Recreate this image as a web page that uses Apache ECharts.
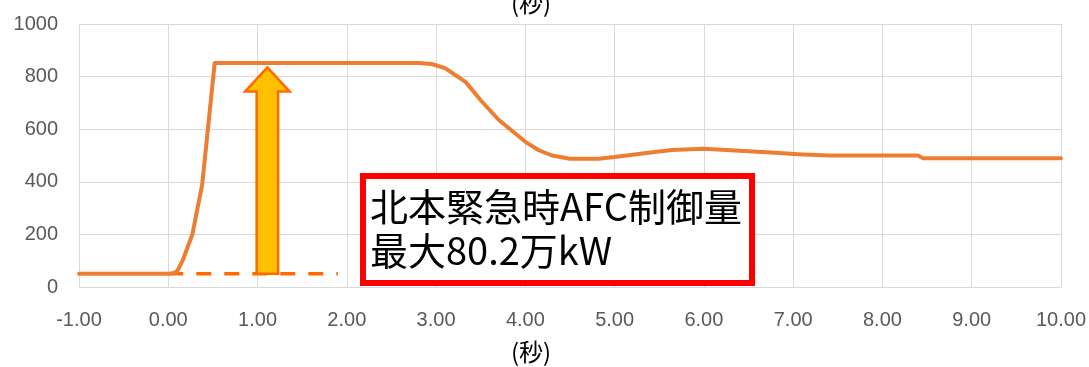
<!DOCTYPE html>
<html>
<head>
<meta charset="utf-8">
<script src="https://cdn.jsdelivr.net/npm/echarts@6/dist/echarts.min.js"></script>
<style>
  html, body { margin: 0; padding: 0; background: #ffffff; }
  #chart { width: 1089px; height: 367px; }
</style>
</head>
<body>
<div id="chart"></div>
<script>
// Time after the event (seconds) and AFC output (MW)
const timeSec = [-1, 0, 0.05, 0.1, 0.16, 0.27, 0.38, 0.52, 1, 2, 2.8, 2.95, 3.1, 3.33, 3.5, 3.7, 4.0, 4.15, 4.3, 4.5, 4.82, 5.0, 5.2, 5.45, 5.64, 5.85, 6.0, 6.2, 6.5, 6.8, 7.05, 7.4, 8.0, 8.4, 8.45, 9.0, 10.0];
const afcOutput = [50, 50, 52, 60, 100, 200, 390, 852, 852, 852, 852, 848, 832, 780, 710, 636, 552, 520, 500, 488, 488, 494, 503, 513, 521, 524, 526, 522, 516, 510, 505, 500, 500, 500, 490, 490, 490];

// Pre-event level guide (dashed) and the rise arrow
const baseGuideX = [0, 1.9];
const baseLevel = 50;
const arrowX = 1.11;
const arrowTop = 835;
const arrowHeadBase = 743;
const arrowShaftHalf = 0.12;
const arrowHeadHalf = 0.25;

// Axis ticks
const xTicks = [-1, 0, 1, 2, 3, 4, 5, 6, 7, 8, 9, 10];
const yTicks = [0, 200, 400, 600, 800, 1000];

const noteLines = ['北本緊急時AFC制御量', '最大80.2万kW'];
const unitLabel = '(秒)';

const chart = echarts.init(document.getElementById('chart'), null, { renderer: 'canvas' });

const axisFont = { color: '#595959', fontSize: 20, fontFamily: 'Liberation Sans, DejaVu Sans, sans-serif' };
const noteFont = { fill: '#000000', fontSize: 38, fontFamily: 'Noto Sans CJK JP', verticalAlign: 'middle' };
const unitFont = { fill: '#000000', fontSize: 24, fontFamily: 'Noto Sans CJK JP', align: 'center', verticalAlign: 'middle' };

chart.setOption({
  animation: false,
  backgroundColor: '#ffffff',
  grid: { left: 79, right: 27, top: 24, bottom: 80 },
  xAxis: {
    type: 'value',
    min: xTicks[0],
    max: xTicks[xTicks.length - 1],
    interval: 1,
    axisLine: { show: true, lineStyle: { color: '#d9d9d9', width: 1 } },
    axisTick: { show: false },
    splitLine: { show: true, lineStyle: { color: '#d9d9d9', width: 1 } },
    axisLabel: Object.assign({ margin: 23, formatter: v => v.toFixed(2) }, axisFont)
  },
  yAxis: {
    type: 'value',
    min: yTicks[0],
    max: yTicks[yTicks.length - 1],
    interval: 200,
    axisLine: { show: false },
    axisTick: { show: false },
    splitLine: { show: true, lineStyle: { color: '#d9d9d9', width: 1 } },
    axisLabel: Object.assign({ margin: 21, formatter: v => String(v) }, axisFont)
  },
  series: [
    {
      type: 'line',
      data: baseGuideX.map(x => [x, baseLevel]),
      symbol: 'none',
      lineStyle: { color: '#ff6a00', width: 3.5, type: [15, 13] },
      z: 2
    },
    {
      type: 'line',
      data: timeSec.map((t, i) => [t, afcOutput[i]]),
      symbol: 'none',
      lineStyle: { color: '#ed7d31', width: 4, join: 'round', cap: 'round' },
      z: 3
    },
    {
      type: 'custom',
      data: [[arrowX, baseLevel, arrowTop, arrowHeadBase]],
      z: 4,
      renderItem: (params, api) => {
        const x = api.value(0), y0 = api.value(1), yTip = api.value(2), yHead = api.value(3);
        const pts = [
          [x - arrowShaftHalf, y0],
          [x - arrowShaftHalf, yHead],
          [x - arrowHeadHalf, yHead],
          [x, yTip],
          [x + arrowHeadHalf, yHead],
          [x + arrowShaftHalf, yHead],
          [x + arrowShaftHalf, y0]
        ].map(p => api.coord(p));
        return {
          type: 'polygon',
          shape: { points: pts },
          style: { fill: '#ffc000', stroke: '#ff6a00', lineWidth: 2.5, lineJoin: 'miter' }
        };
      }
    }
  ],
  graphic: [
    {
      type: 'rect',
      shape: { x: 363, y: 176, width: 389, height: 107 },
      style: { fill: '#ffffff', stroke: '#ff0000', lineWidth: 6 },
      z: 10
    },
    {
      type: 'text',
      x: 370, y: 207,
      style: Object.assign({ text: noteLines[0] }, noteFont),
      z: 11
    },
    {
      type: 'text',
      x: 370, y: 251,
      style: Object.assign({ text: noteLines[1] }, noteFont),
      z: 11
    },
    {
      type: 'text',
      x: 531, y: 352,
      style: Object.assign({ text: unitLabel }, unitFont),
      z: 11
    },
    {
      type: 'text',
      x: 531, y: 3,
      style: Object.assign({ text: unitLabel }, unitFont),
      z: 11
    }
  ]
});
</script>
</body>
</html>
